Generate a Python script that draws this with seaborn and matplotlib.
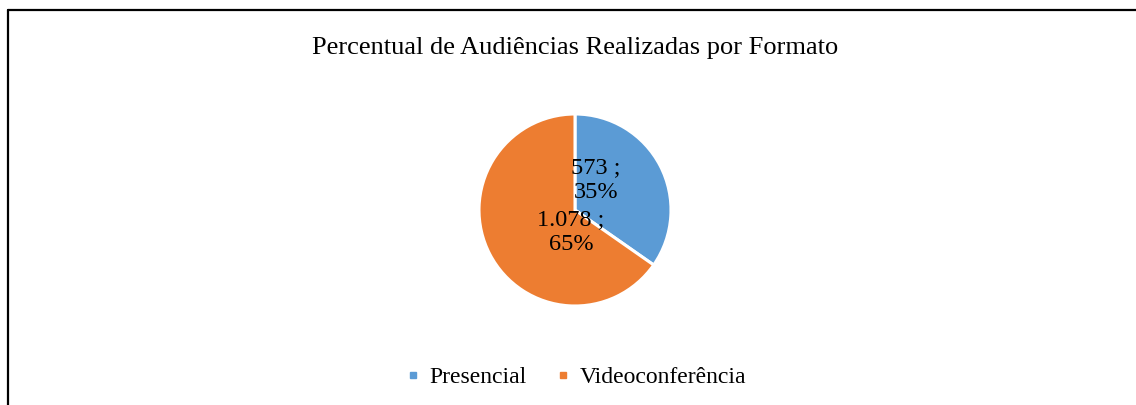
import matplotlib
matplotlib.use("Agg")
import matplotlib.pyplot as plt
from matplotlib.lines import Line2D
import seaborn as sns

# ---data---
categories = ["Presencial", "Videoconferência"]
counts = [573, 1078]
count_labels = ["573", "1.078"]
colors = ["#5B9BD5", "#ED7D31"]

sns.set_theme(style="white")
plt.rcParams['font.family'] = ['Liberation Serif', 'DejaVu Serif']
plt.rcParams['text.color'] = 'black'

W, H = 1136, 405
fig = plt.figure(figsize=(W / 100, H / 100), dpi=100)

# pie axes: centre (575, 210) px, radius 96 px
r = 96
cx, cy = 575, 210
ax = fig.add_axes([(cx - r) / W, (H - cy - r) / H, 2 * r / W, 2 * r / H])
wedges, _ = ax.pie(counts, colors=colors, startangle=90, counterclock=False,
                   wedgeprops=dict(edgecolor='white', linewidth=2.2))
ax.set_xlim(-1, 1)
ax.set_ylim(-1, 1)
ax.set_aspect('equal')

total = sum(counts)
pcts = [round(c / total * 100) for c in counts]
label_pos = [(0.22, 0.31), (-0.04, -0.23)]
for (x, y), lab, p in zip(label_pos, count_labels, pcts):
    ax.text(x, y, '{} ;\n{}%'.format(lab, p), ha='center', va='center',
            fontsize=17.5, linespacing=1.25, color='black')

fig.text(cx / W, 1 - 48 / H, 'Percentual de Audiências Realizadas por Formato',
         ha='center', va='center', fontsize=19)

handles = [Line2D([], [], marker='s', linestyle='none', markersize=5,
                  markerfacecolor=c, markeredgecolor=c) for c in colors]
fig.legend(handles, categories, loc='center', bbox_to_anchor=(cx / W, 1 - 377 / H),
           ncol=2, frameon=False, fontsize=17, handletextpad=0.3,
           columnspacing=1.15, handlelength=0.8)

# chart border (cropped: left and top edges visible)
fig.add_artist(Line2D([8 / W, 8 / W], [0, 1 - 10 / H], transform=fig.transFigure,
                      color='black', linewidth=1.6))
fig.add_artist(Line2D([8 / W, 1], [1 - 10 / H, 1 - 10 / H], transform=fig.transFigure,
                      color='black', linewidth=1.6))

fig.savefig('out.png', dpi=100, facecolor='white')
